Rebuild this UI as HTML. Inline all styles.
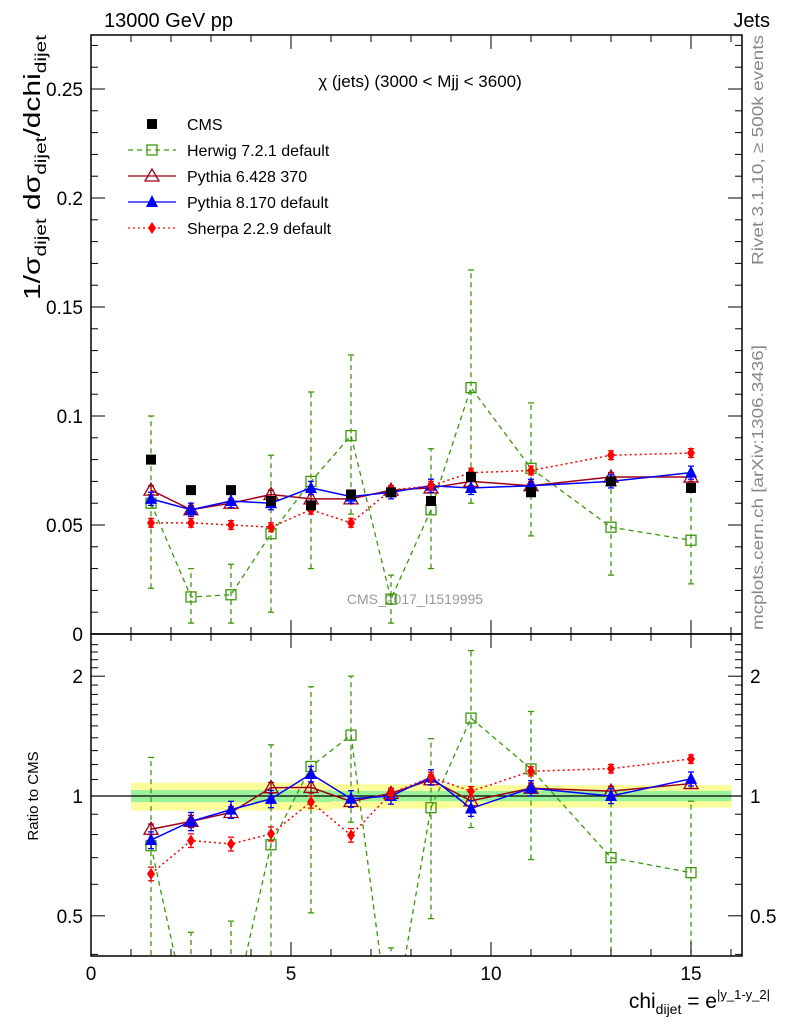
<!DOCTYPE html>
<html><head><meta charset="utf-8"><style>
html,body{margin:0;background:#fff;overflow:hidden;width:786px;height:1024px;}
svg{display:block;font-family:"Liberation Sans",sans-serif;}
</style></head><body>
<svg id="c" width="786" height="1024" viewBox="0 0 786 1024">
<text x="104" y="27" font-size="20">13000 GeV pp</text>
<text x="770" y="27" font-size="20" text-anchor="end">Jets</text>
<text x="420" y="87" font-size="17" text-anchor="middle">χ (jets) (3000 &lt; Mjj &lt; 3600)</text>
<text x="415" y="604" font-size="14" fill="#999" text-anchor="middle">CMS_2017_I1519995</text>
<text transform="translate(763,265) rotate(-90)" font-size="16" fill="#888" textLength="230" lengthAdjust="spacingAndGlyphs">Rivet 3.1.10, ≥ 500k events</text>
<text transform="translate(763,630) rotate(-90)" font-size="16" fill="#888" textLength="285" lengthAdjust="spacingAndGlyphs">mcplots.cern.ch [arXiv:1306.3436]</text>
<text transform="translate(40,300) rotate(-90)" font-size="23" textLength="265" lengthAdjust="spacingAndGlyphs">1/σ<tspan font-size="16" dy="6">dijet</tspan><tspan dy="-6"> dσ</tspan><tspan font-size="16" dy="6">dijet</tspan><tspan dy="-6">/dchi</tspan><tspan font-size="16" dy="6">dijet</tspan></text>
<text transform="translate(38,796) rotate(-90)" font-size="15" text-anchor="middle">Ratio to CMS</text>
<text x="770" y="1008" font-size="21" text-anchor="end">chi<tspan font-size="14" dy="6">dijet</tspan><tspan dy="-6"> = e</tspan><tspan font-size="13" dy="-9">|y_1-y_2|</tspan></text>
<g id="g"></g>
</svg>
<script>
const xs=[1.5,2.5,3.5,4.5,5.5,6.5,7.5,8.5,9.5,11,13,15];
const binLo=[1,2,3,4,5,6,7,8,9,10,12,14];
const binHi=[2,3,4,5,6,7,8,9,10,12,14,16];
const cms=[0.080,0.066,0.066,0.061,0.059,0.064,0.065,0.061,0.072,0.065,0.070,0.067];
const bandYellow=[0.08,0.08,0.08,0.08,0.08,0.07,0.07,0.07,0.065,0.065,0.065,0.065];
const bandGreen=[0.035,0.035,0.035,0.035,0.035,0.03,0.03,0.03,0.03,0.03,0.03,0.03];
const herwig=[0.060,0.017,0.018,0.046,0.070,0.091,0.016,0.057,0.113,0.076,0.049,0.043];
const herwigLo=[0.021,0.005,0.005,0.010,0.030,0.055,0.005,0.030,0.060,0.045,0.027,0.023];
const herwigHi=[0.100,0.030,0.032,0.082,0.111,0.128,0.027,0.085,0.167,0.106,0.070,0.065];
const py6=[0.066,0.057,0.060,0.064,0.062,0.062,0.066,0.067,0.070,0.068,0.072,0.072];
const py8=[0.062,0.057,0.061,0.060,0.067,0.063,0.065,0.068,0.067,0.068,0.070,0.074];
const sherpa=[0.051,0.051,0.050,0.049,0.057,0.051,0.066,0.068,0.074,0.075,0.082,0.083];
const mainTicks=[0,0.05,0.1,0.15,0.2,0.25];
const mainTickLabels=["0","0.05","0.1","0.15","0.2","0.25"];
const ratioTicks=[0.5,1,2];
const xTicks=[0,5,10,15];

const L=91,R=742,T=35,M=634,B=956;
const X=v=>L+40*v;
const Y=v=>M-2180*v;
const RY=r=>796-398*Math.log10(r);
const g=document.getElementById('g');
const NS='http://www.w3.org/2000/svg';
function el(t,a,p){const e=document.createElementNS(NS,t);for(const k in a)e.setAttribute(k,a[k]);(p||g).appendChild(e);return e;}
const clipM=el('clipPath',{id:'cm'});el('rect',{x:L,y:T,width:R-L,height:M-T},clipM);
const clipR=el('clipPath',{id:'cr'});el('rect',{x:L,y:M,width:R-L,height:B-M},clipR);
const gm=el('g',{'clip-path':'url(#cm)'});
const gr=el('g',{'clip-path':'url(#cr)'});

for(let i=0;i<xs.length;i++){
 const r1=el('rect',{x:X(binLo[i]),y:RY(1+bandYellow[i]),width:X(binHi[i])-X(binLo[i])+0.5,height:RY(1-bandYellow[i])-RY(1+bandYellow[i]),fill:'#fdfc9a'},gr);
 
}
for(let i=0;i<xs.length;i++){
 const r2=el('rect',{x:X(binLo[i]),y:RY(1+bandGreen[i]),width:X(binHi[i])-X(binLo[i])+0.5,height:RY(1-bandGreen[i])-RY(1+bandGreen[i]),fill:'#9af29a'},gr);
 
}
const l1=el('line',{x1:L,x2:R,y1:RY(1),y2:RY(1),stroke:'#000','stroke-width':1.3},gr);


function marker(p,type,x,y,col,name){
 let e;
 if(type==='sq')e=el('rect',{x:x-5,y:y-5,width:10,height:10,fill:col},p);
 if(type==='osq')e=el('rect',{x:x-5,y:y-5,width:10,height:10,fill:'none',stroke:col,'stroke-width':1.3},p);
 if(type==='otri')e=el('polygon',{points:`${x},${y-7} ${x-7},${y+5} ${x+7},${y+5}`,fill:'none',stroke:col,'stroke-width':1.3},p);
 if(type==='tri')e=el('polygon',{points:`${x},${y-7} ${x-6},${y+5} ${x+6},${y+5}`,fill:col},p);
 if(type==='dia')e=el('polygon',{points:`${x},${y-6} ${x-4},${y} ${x},${y+6} ${x+4},${y}`,fill:col},p);
 
 
}
const series=[
 {d:herwig,lo:herwigLo,hi:herwigHi,col:'#3a9a0a',dash:'5,4',m:'osq',n:'herwig',w:1.3},
 {d:py6,col:'#a00018',dash:'',m:'otri',n:'pythia6',w:1.5,e:0.002},
 {d:py8,col:'#0000ff',dash:'',m:'tri',n:'pythia8',w:1.5,e:0.003},
 {d:sherpa,col:'#ff0000',dash:'2,3',m:'dia',n:'sherpa',w:1.5,e:0.002},
];
for(const s of series){
 for(const [p,f] of [[gm,(v,i)=>Y(v)],[gr,(v,i)=>RY(v/cms[i])]]){
  const pts=s.d.map((v,i)=>X(xs[i])+','+f(v,i)).join(' ');
  const pl=el('polyline',{points:pts,fill:'none',stroke:s.col,'stroke-width':s.w,'stroke-dasharray':s.dash},p);
  
  s.d.forEach((v,i)=>{
   const lo=s.lo?s.lo[i]:v-s.e, hi=s.hi?s.hi[i]:v+s.e;
   const x=X(xs[i]);
   const eb=el('line',{x1:x,x2:x,y1:f(lo,i),y2:f(hi,i),stroke:s.col,'stroke-width':1.3,'stroke-dasharray':s.dash},p);
   
   for(const yv of [f(lo,i),f(hi,i)]){const c=el('line',{x1:x-3,x2:x+3,y1:yv,y2:yv,stroke:s.col,'stroke-width':1.3},p);}
   marker(p,s.m,x,f(v,i),s.col,s.n+'-point');
  });
 }
}
cms.forEach((v,i)=>marker(gm,'sq',X(xs[i]),Y(v),'#000','cms-point'));

for(const [t,b,n] of [[T,M,'main-frame'],[M,B,'ratio-frame']]){
 const f=el('rect',{x:L,y:t,width:R-L,height:b-t,fill:'none',stroke:'#000','stroke-width':1.5});
 
}
mainTicks.forEach((v,i)=>{
 el('line',{x1:L,x2:L+14,y1:Y(v),y2:Y(v),stroke:'#000'});el('line',{x1:R,x2:R-14,y1:Y(v),y2:Y(v),stroke:'#000'});
 const t=el('text',{x:L-8,y:Y(v)+7,'font-size':19,'text-anchor':'end'});t.textContent=mainTickLabels[i];
 
});
for(let v=0.01;v<0.275;v+=0.01){if(Math.abs(v*20-Math.round(v*20))<1e-6)continue;el('line',{x1:L,x2:L+7,y1:Y(v),y2:Y(v),stroke:'#000'});el('line',{x1:R,x2:R-7,y1:Y(v),y2:Y(v),stroke:'#000'});}
ratioTicks.forEach(v=>{
 el('line',{x1:L,x2:L+14,y1:RY(v),y2:RY(v),stroke:'#000'});el('line',{x1:R,x2:R-14,y1:RY(v),y2:RY(v),stroke:'#000'});
 for(const [x,a] of [[L-8,'end'],[R+8,'start']]){const t=el('text',{x:x,y:RY(v)+7,'font-size':19,'text-anchor':a});t.textContent=String(v);}
});
[0.4,0.6,0.7,0.8,0.9,1.1,1.2,1.3,1.4,1.5,1.6,1.7,1.8,1.9,2.1,2.2,2.3,2.4].forEach(v=>{el('line',{x1:L,x2:L+7,y1:RY(v),y2:RY(v),stroke:'#000'});el('line',{x1:R,x2:R-7,y1:RY(v),y2:RY(v),stroke:'#000'});});
for(let v=0;v<=16.2;v+=1){const big=v%5===0;
 for(const [a,b] of [[T,T+(big?14:7)],[M,M-(big?14:7)],[M,M+(big?14:7)],[B,B-(big?14:7)]])el('line',{x1:X(v),x2:X(v),y1:a,y2:b,stroke:'#000'});}
xTicks.forEach(v=>{const t=el('text',{x:X(v),y:980,'font-size':19,'text-anchor':'middle'});t.textContent=String(v);});

const lg=el('g',{});
const lab=['CMS','Herwig 7.2.1 default','Pythia 6.428 370','Pythia 8.170 default','Sherpa 2.2.9 default'];
lab.forEach((s,i)=>{
 const y=124+26*i;
 if(i>0){const q=series[i-1];const ln=el('line',{x1:128,x2:176,y1:y,y2:y,stroke:q.col,'stroke-width':1.3,'stroke-dasharray':q.dash},lg);marker(lg,q.m,152,y,q.col,'legend-marker');}
 else marker(lg,'sq',152,y,'#000','legend-marker');
 const t=el('text',{x:187,y:y+6,'font-size':16},lg);t.textContent=s;
 
});
</script>
</body></html>
